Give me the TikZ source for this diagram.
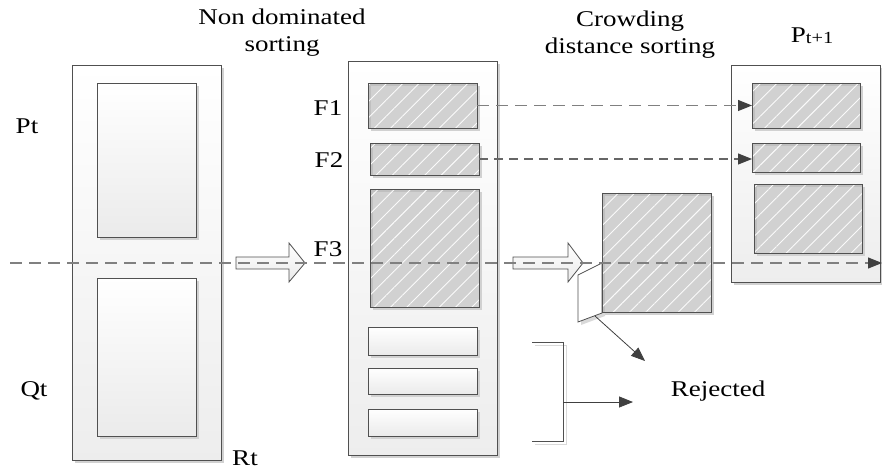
\documentclass[tikz,border=0pt]{standalone}
\usepackage{fontspec}
\setmainfont{Liberation Serif}
\usetikzlibrary{arrows.meta,patterns.meta,shadows}
\definecolor{hatchgray}{HTML}{C0C0C0}
\definecolor{edge}{HTML}{505050}
\definecolor{dashgray}{HTML}{808080}
\definecolor{tipgray}{HTML}{404040}
\begin{document}
\begin{tikzpicture}[x=1pt,y=-1pt,
  shad/.style={drop shadow={shadow xshift=3pt,shadow yshift=-3pt,fill=black!18,opacity=1}},
  outerbox/.style={draw=edge,line width=0.8pt,top color=white,bottom color=black!7,shad,anchor=north west,inner sep=0pt,outer sep=0pt},
  whitebox/.style={draw=edge,line width=0.8pt,top color=white,bottom color=black!8,shad,anchor=north west,inner sep=0pt,outer sep=0pt},
  hatchbox/.style={draw=edge,line width=0.8pt,preaction={fill=hatchgray},
     pattern={Lines[angle=45,distance=11.5pt,line width=0.9pt]},pattern color=white!92!hatchgray,
     shad,anchor=north west,inner sep=0pt,outer sep=0pt},
  lbl/.style={font=\fontsize{22.5}{27}\selectfont,xscale=1.2,inner sep=0pt,align=center},
  dasharrow/.style={draw=dashgray,line width=1.1pt,dash pattern=on 12pt off 7pt,-{Triangle[length=14pt,width=11pt,fill=tipgray,color=tipgray]}},
  solidarrow/.style={draw=tipgray,line width=0.8pt,-{Triangle[length=14pt,width=11pt,fill=tipgray,color=tipgray]}},
  hollow/.style={draw=edge,line width=0.8pt,top color=white,bottom color=black!8},
]
\useasboundingbox (0,0) rectangle (882,470);

% left column R_t
\node[outerbox,minimum width=149pt,minimum height=395pt] (Rt) at (72,65) {};
\node[whitebox,minimum width=99pt,minimum height=154pt] (Pbox) at (97,83) {};
\node[whitebox,minimum width=99pt,minimum height=158pt] (Qbox) at (97,278) {};
\node[lbl] (Pt) at (27,126) {Pt};
\node[lbl] (Qt) at (34,391) {Qt};
\node[lbl] (RtL) at (245,458) {Rt};

% middle column
\node[outerbox,minimum width=149pt,minimum height=394pt] (Mid) at (348,61) {};
\node[hatchbox,minimum width=109pt,minimum height=45pt] (F1) at (368,83) {};
\node[hatchbox,minimum width=109pt,minimum height=32pt] (F2) at (370,143) {};
\node[hatchbox,minimum width=109pt,minimum height=118pt] (F3) at (370,189) {};
\node[whitebox,minimum width=109pt,minimum height=28pt] (W1) at (368,327) {};
\node[whitebox,minimum width=109pt,minimum height=26pt] (W2) at (368,368) {};
\node[whitebox,minimum width=109pt,minimum height=27pt] (W3) at (368,409) {};
\node[lbl] (F1L) at (328,108) {F1};
\node[lbl] (F2L) at (329,160) {F2};
\node[lbl] (F3L) at (328,249) {F3};
\node[lbl] (NDS) at (282,33) {Non dominated\\sorting};

% crowding distance part
\node[lbl] (CDS) at (630,35) {Crowding\\distance sorting};
\coordinate (c1) at (578,275);
\coordinate (c2) at (602,263);
\coordinate (c3) at (602,313);
\coordinate (c4) at (578,322);
\fill[black!15] ([shift={(3,3)}]c1) -- ([shift={(3,3)}]c2) -- ([shift={(3,3)}]c3) -- ([shift={(3,3)}]c4) -- cycle;
\draw[edge,line width=0.8pt,fill=white] (c1) -- (c2) -- (c3) -- (c4) -- cycle;
\node[hatchbox,minimum width=109pt,minimum height=119pt] (Cut) at (602,193) {};

% right column P_{t+1}
\node[outerbox,minimum width=149pt,minimum height=217pt] (Pn) at (731,65) {};
\node[hatchbox,minimum width=108pt,minimum height=45pt] (N1) at (752,83) {};
\node[hatchbox,minimum width=108pt,minimum height=29pt] (N2) at (752,143) {};
\node[hatchbox,minimum width=108pt,minimum height=69pt] (N3) at (754,184) {};
\node[lbl] (PnL) at (812,36) {P\raisebox{-1pt}{\fontsize{17}{20}\selectfont t+1}};

% hollow arrows
\draw[hollow] (236,257) -- (289,257) -- (289,243) -- (305,263) -- (289,282) -- (289,269) -- (236,269) -- cycle;
\draw[hollow] (513,257) -- (568,257) -- (568,243) -- (583,263) -- (568,282) -- (568,269) -- (513,269) -- cycle;

% dashed connectors
\draw[dasharrow] (F1.east) -- (F1.east -| N1.west);
\draw[dasharrow,dash pattern=on 9pt off 6pt,draw=black!60] (F2.east) -- (F2.east -| N2.west);
\coordinate (ds) at (10,263);
\coordinate (de) at (882,263);
\draw[dasharrow] (ds) -- (de);

% rejected
\node[lbl] (Rej) at (718,391) {Rejected};
\coordinate (cutfoot) at (595,316);
\coordinate (rj1) at (645,361);
\draw[solidarrow] (cutfoot) -- (rj1);
\coordinate (bt) at (532,342);
\coordinate (bb) at (532,441);
\coordinate (bm) at (563,402);
\coordinate (rj2) at (633,402);
\draw[black!15,line width=0.8pt] ([shift={(3,3)}]bt) -- ([shift={(3,3)}]bt -| bm) -- ([shift={(3,3)}]bb -| bm) -- ([shift={(3,3)}]bb);
\draw[edge,line width=0.8pt] (bt) -- (bt -| bm) -- (bb -| bm) -- (bb);
\draw[solidarrow] (bm) -- (rj2);
\end{tikzpicture}
\end{document}
